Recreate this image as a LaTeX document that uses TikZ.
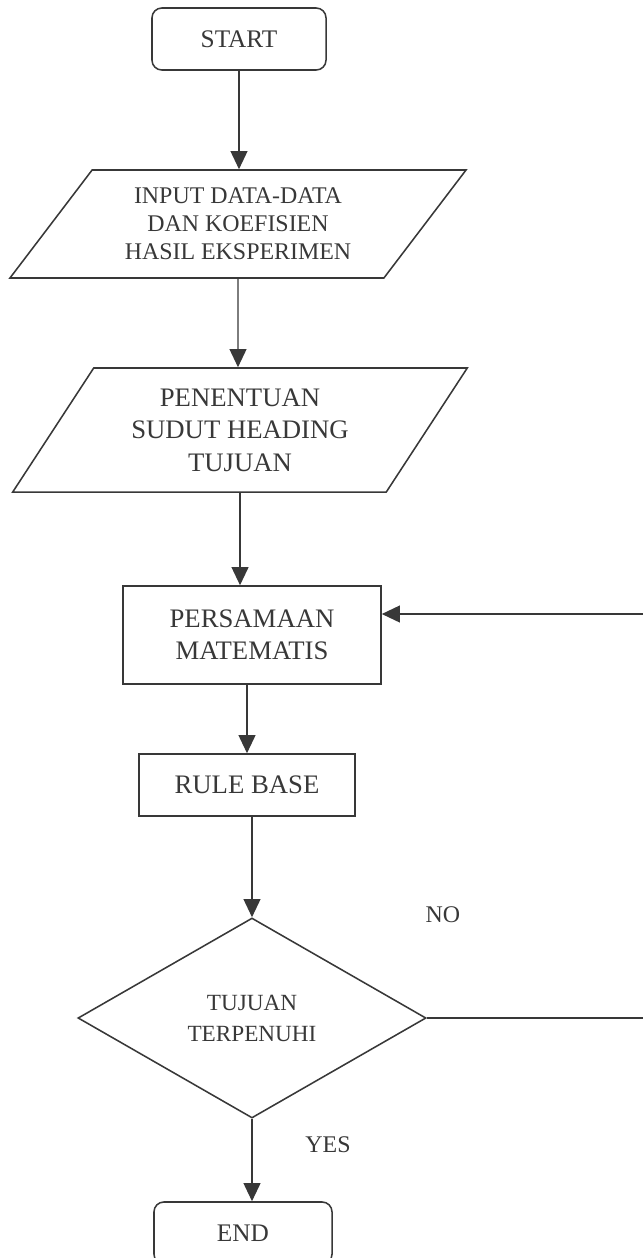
\documentclass[tikz,border=0pt]{standalone}
\usepackage{fontspec}
\setmainfont{Liberation Serif}
\usetikzlibrary{shapes.geometric,arrows.meta}
\definecolor{ink}{HTML}{383838}
\begin{document}
\begin{tikzpicture}[x=0.025cm,y=-0.025cm,color=ink,line width=1.1pt,
  every node/.style={align=center,inner sep=2pt},
  term/.style={draw,rounded corners=7pt,minimum width=4.35cm,minimum height=1.55cm,font=\fontsize{18}{22}\selectfont},
  io/.style={draw,trapezium,trapezium stretches=true,minimum width=11.4cm},
  proc/.style={draw,font=\fontsize{19}{23}\selectfont},
  cond/.style={draw,diamond,minimum width=8.7cm,minimum height=5cm,font=\fontsize{16.5}{22}\selectfont},
  lbl/.style={font=\fontsize{17}{20}\selectfont},
  arr/.style={-{Triangle[length=0.45cm,width=0.42cm]},line width=1pt}]
\useasboundingbox (0,0) rectangle (643,1258);
\node[term] (start) at (239,39) {START};
\node[io,trapezium left angle=50,trapezium right angle=130,minimum height=2.7cm,font=\fontsize{17}{20}\selectfont] (inp) at (238,224) {INPUT DATA-DATA\\DAN KOEFISIEN\\HASIL EKSPERIMEN};
\node[io,trapezium left angle=55,trapezium right angle=125,minimum height=3.1cm,font=\fontsize{19}{23}\selectfont] (hdg) at (240,430) {PENENTUAN\\SUDUT HEADING\\TUJUAN};
\node[proc,minimum width=6.45cm,minimum height=2.45cm] (pers) at (252,635) {PERSAMAAN\\MATEMATIS};
\node[proc,minimum width=5.4cm,minimum height=1.55cm] (rule) at (247,785) {RULE BASE};
\node[cond] (dec) at (252,1018) {TUJUAN\\TERPENUHI};
\node[term,minimum width=4.45cm] (end) at (243,1233) {END};
\node[lbl] (no) at (443,915) {NO};
\node[lbl] (yes) at (328,1145) {YES};
\coordinate (back) at (660,614);
\draw[arr] (start) -- (start |- inp.north);
\draw[arr] (inp) -- (inp |- hdg.north);
\draw[arr] (hdg.south) -- (hdg.south |- pers.north);
\draw[arr] (pers.south -| rule) -- (rule);
\draw[arr] (rule.south -| dec) -- (dec);
\draw[arr] (dec) -- (dec |- end.north);
\draw[arr] (dec.east) -| (back) -- (back -| pers.east);
\end{tikzpicture}
\end{document}
